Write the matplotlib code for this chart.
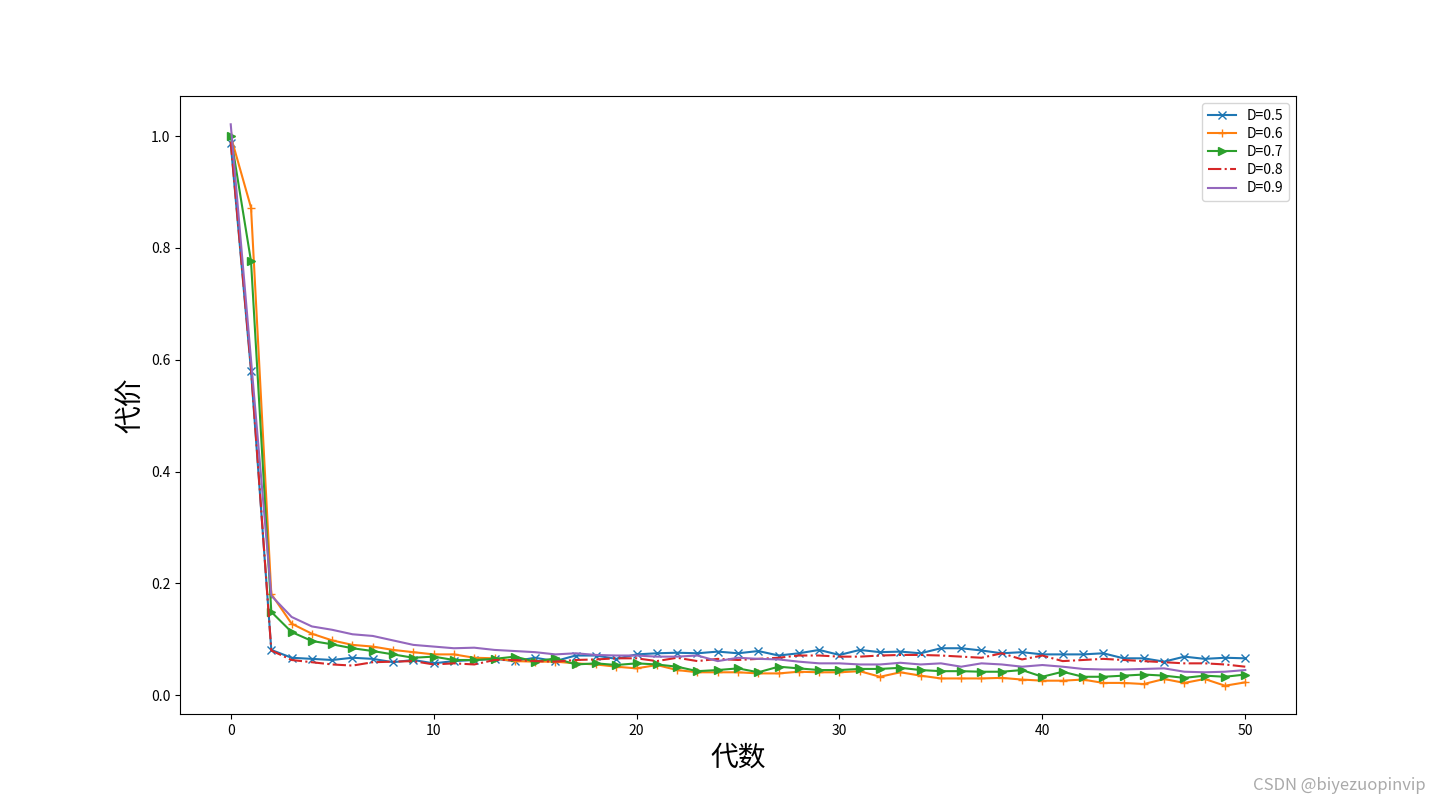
import matplotlib
matplotlib.use("Agg")
import matplotlib.pyplot as plt
import numpy as np

plt.rcParams['font.family'] = ['Noto Sans CJK SC', 'DejaVu Sans']
plt.rcParams['axes.unicode_minus'] = False

gens = list(range(51))

d05 = [0.987, 0.580, 0.081, 0.067, 0.065, 0.063, 0.067, 0.065, 0.059, 0.063,
       0.057, 0.061, 0.063, 0.065, 0.061, 0.067, 0.061, 0.071, 0.071, 0.065,
       0.073, 0.075, 0.076, 0.075, 0.078, 0.075, 0.079, 0.071, 0.075, 0.081,
       0.072, 0.081, 0.077, 0.078, 0.075, 0.084, 0.084, 0.080, 0.075, 0.077,
       0.073, 0.073, 0.073, 0.075, 0.066, 0.066, 0.060, 0.069, 0.065, 0.067,
       0.066]
d06 = [1.000, 0.872, 0.181, 0.128, 0.110, 0.098, 0.090, 0.087, 0.081, 0.077,
       0.073, 0.073, 0.067, 0.066, 0.061, 0.060, 0.060, 0.057, 0.055, 0.051,
       0.048, 0.054, 0.045, 0.041, 0.041, 0.041, 0.039, 0.039, 0.042, 0.041,
       0.041, 0.043, 0.033, 0.041, 0.035, 0.030, 0.030, 0.030, 0.031, 0.028,
       0.026, 0.026, 0.028, 0.022, 0.022, 0.020, 0.029, 0.022, 0.029, 0.017,
       0.023]
d07 = [1.000, 0.776, 0.149, 0.113, 0.097, 0.091, 0.084, 0.079, 0.073, 0.067,
       0.069, 0.063, 0.063, 0.065, 0.069, 0.060, 0.066, 0.055, 0.057, 0.054,
       0.057, 0.055, 0.051, 0.043, 0.045, 0.048, 0.041, 0.051, 0.048, 0.045,
       0.045, 0.047, 0.047, 0.049, 0.045, 0.043, 0.043, 0.042, 0.042, 0.045,
       0.033, 0.042, 0.033, 0.033, 0.035, 0.037, 0.035, 0.031, 0.035, 0.033,
       0.037]
d08 = [0.990, 0.585, 0.080, 0.063, 0.059, 0.055, 0.053, 0.059, 0.060, 0.061,
       0.055, 0.057, 0.055, 0.063, 0.063, 0.061, 0.060, 0.063, 0.064, 0.066,
       0.066, 0.061, 0.067, 0.061, 0.065, 0.063, 0.065, 0.067, 0.071, 0.071,
       0.069, 0.069, 0.071, 0.072, 0.072, 0.071, 0.069, 0.067, 0.075, 0.064,
       0.071, 0.061, 0.063, 0.065, 0.063, 0.061, 0.059, 0.057, 0.057, 0.055,
       0.051]
d09 = [1.021, 0.600, 0.178, 0.140, 0.123, 0.117, 0.109, 0.106, 0.098, 0.090,
       0.087, 0.084, 0.085, 0.081, 0.079, 0.077, 0.073, 0.075, 0.072, 0.071,
       0.071, 0.069, 0.069, 0.071, 0.061, 0.067, 0.065, 0.064, 0.060, 0.057,
       0.057, 0.055, 0.055, 0.058, 0.055, 0.057, 0.051, 0.057, 0.055, 0.051,
       0.054, 0.051, 0.047, 0.046, 0.046, 0.047, 0.048, 0.042, 0.041, 0.042,
       0.045]

labels = ['D=0.5', 'D=0.6', 'D=0.7', 'D=0.8', 'D=0.9']

fig = plt.figure(figsize=(14.4, 8.02), dpi=100)
ax = fig.add_subplot(111)
ax.plot(gens, d05, marker='x', label=labels[0])
ax.plot(gens, d06, marker='+', label=labels[1])
ax.plot(gens, d07, marker='>', label=labels[2])
ax.plot(gens, d08, linestyle='-.', label=labels[3])
ax.plot(gens, d09, label=labels[4])

ax.set_xlabel('代数', fontsize=20)
ax.set_ylabel('代价', fontsize=20)
ax.legend(loc='upper right', labelspacing=0.3)

fig.text(0.99, 0.01, 'CSDN @biyezuopinvip', ha='right', va='bottom',
         fontsize=12, color='#aaaaaa')

fig.savefig('out.png', dpi=100)
